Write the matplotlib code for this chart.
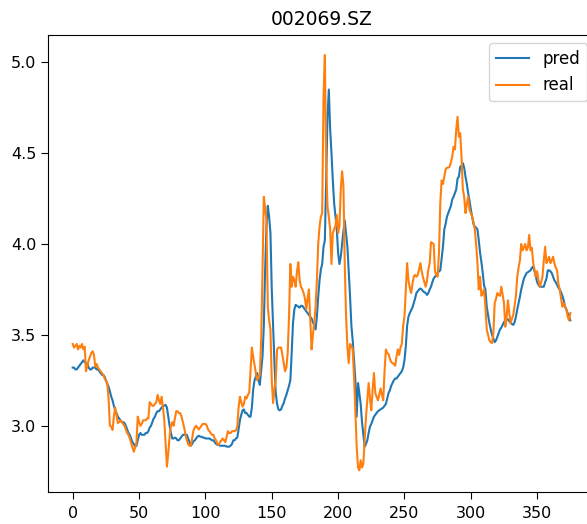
import matplotlib
matplotlib.use("Agg")
import matplotlib.pyplot as plt

# model output vs. actual close price, one value per trading day
pred = [
    3.32, 3.32, 3.31, 3.31, 3.32, 3.33, 3.34, 3.35, 3.36, 3.35,
    3.345, 3.34, 3.32, 3.31, 3.31, 3.32, 3.32, 3.32, 3.31, 3.31,
    3.30, 3.29, 3.28, 3.28, 3.27, 3.25, 3.23, 3.215, 3.19, 3.16,
    3.14, 3.11, 3.085, 3.07, 3.05, 3.04, 3.03, 3.02, 3.02, 3.015,
    3.00, 2.98, 2.96, 2.95, 2.93, 2.91, 2.90, 2.885, 2.89, 2.92,
    2.95, 2.96, 2.95, 2.95, 2.95, 2.96, 2.96, 2.97, 2.99, 3.00,
    3.02, 3.04, 3.05, 3.07, 3.08, 3.08, 3.09, 3.10, 3.11, 3.11,
    3.115, 3.10, 3.05, 3.00, 2.96, 2.93, 2.93, 2.935, 2.93, 2.92,
    2.92, 2.93, 2.94, 2.95, 2.95, 2.95, 2.95, 2.93, 2.91, 2.89,
    2.90, 2.915, 2.92, 2.93, 2.94, 2.945, 2.94, 2.94, 2.935, 2.935,
    2.93, 2.93, 2.93, 2.93, 2.925, 2.92, 2.92, 2.91, 2.90, 2.895,
    2.895, 2.89, 2.89, 2.89, 2.89, 2.89, 2.885, 2.885, 2.885, 2.89,
    2.90, 2.92, 2.92, 2.93, 2.935, 2.98, 3.03, 3.06, 3.085, 3.09,
    3.07, 3.07, 3.06, 3.05, 3.05, 3.10, 3.20, 3.25, 3.27, 3.29,
    3.25, 3.225, 3.30, 3.38, 3.55, 3.86, 4.10, 4.21, 4.15, 4.06,
    3.75, 3.55, 3.35, 3.18, 3.12, 3.09, 3.085, 3.09, 3.11, 3.125,
    3.15, 3.17, 3.195, 3.22, 3.25, 3.40, 3.565, 3.64, 3.665, 3.66,
    3.655, 3.65, 3.66, 3.66, 3.65, 3.64, 3.63, 3.62, 3.61, 3.60,
    3.59, 3.57, 3.55, 3.53, 3.60, 3.71, 3.80, 3.86, 3.89, 3.985,
    4.02, 4.35, 4.70, 4.85, 4.63, 4.50, 4.35, 4.225, 4.15, 4.08,
    3.95, 3.89, 3.93, 4.00, 4.07, 4.13, 4.06, 3.985, 3.85, 3.71,
    3.55, 3.47, 3.36, 3.25, 3.05, 3.235, 3.18, 3.12, 3.02, 2.95,
    2.885, 2.90, 2.92, 2.96, 2.995, 3.01, 3.03, 3.05, 3.06, 3.07,
    3.08, 3.085, 3.09, 3.095, 3.10, 3.11, 3.12, 3.15, 3.18, 3.195,
    3.22, 3.235, 3.25, 3.26, 3.26, 3.27, 3.28, 3.29, 3.30, 3.32,
    3.36, 3.435, 3.55, 3.60, 3.62, 3.635, 3.65, 3.675, 3.70, 3.73,
    3.74, 3.75, 3.755, 3.75, 3.74, 3.735, 3.73, 3.72, 3.73, 3.75,
    3.765, 3.79, 3.81, 3.82, 3.83, 3.84, 3.85, 3.855, 3.92, 3.985,
    4.08, 4.11, 4.15, 4.17, 4.19, 4.21, 4.245, 4.26, 4.28, 4.30,
    4.36, 4.37, 4.425, 4.43, 4.445, 4.42, 4.37, 4.33, 4.28, 4.24,
    4.19, 4.15, 4.11, 4.095, 4.09, 4.08, 4.02, 3.95, 3.90, 3.84,
    3.77, 3.75, 3.655, 3.61, 3.565, 3.53, 3.50, 3.48, 3.46, 3.47,
    3.49, 3.51, 3.53, 3.54, 3.555, 3.57, 3.58, 3.585, 3.585, 3.575,
    3.565, 3.56, 3.555, 3.57, 3.60, 3.64, 3.675, 3.71, 3.75, 3.78,
    3.81, 3.825, 3.84, 3.845, 3.85, 3.855, 3.87, 3.875, 3.85, 3.82,
    3.79, 3.775, 3.765, 3.765, 3.765, 3.765, 3.79, 3.81, 3.855, 3.855,
    3.85, 3.84, 3.82, 3.80, 3.79, 3.775, 3.76, 3.75, 3.735, 3.715,
    3.69, 3.655, 3.64, 3.62, 3.60, 3.58,
]

real = [
    3.45, 3.43, 3.44, 3.45, 3.42, 3.44, 3.43, 3.45, 3.42, 3.435,
    3.30, 3.33, 3.36, 3.38, 3.40, 3.41, 3.39, 3.325, 3.34, 3.32,
    3.31, 3.30, 3.29, 3.28, 3.26, 3.25, 3.235, 3.15, 3.00, 2.995,
    2.977, 3.05, 3.10, 3.06, 3.015, 3.02, 3.03, 3.02, 3.01, 3.00,
    2.98, 2.96, 2.95, 2.93, 2.905, 2.88, 2.857, 2.88, 2.905, 3.05,
    3.02, 3.00, 3.01, 3.03, 3.03, 3.03, 3.04, 3.04, 3.13, 3.12,
    3.11, 3.11, 3.12, 3.13, 3.17, 3.14, 3.12, 3.16, 3.10, 3.03,
    2.90, 2.775, 2.85, 2.94, 3.00, 3.02, 3.00, 3.04, 3.08, 3.08,
    3.07, 3.07, 3.05, 3.02, 2.99, 2.95, 2.92, 2.90, 2.89, 2.89,
    2.93, 2.975, 2.99, 3.00, 2.99, 2.98, 2.99, 3.00, 3.01, 3.01,
    3.01, 3.00, 2.98, 2.97, 2.96, 2.95, 2.95, 2.93, 2.92, 2.90,
    2.895, 2.91, 2.92, 2.93, 2.92, 2.91, 2.94, 2.97, 2.96, 2.96,
    2.97, 2.97, 2.97, 2.975, 2.995, 3.10, 3.16, 3.13, 3.105, 3.12,
    3.16, 3.15, 3.17, 3.18, 3.31, 3.43, 3.38, 3.335, 3.29, 3.25,
    3.27, 3.28, 3.47, 3.84, 4.26, 4.20, 4.13, 3.655, 3.58, 3.53,
    3.25, 3.125, 3.20, 3.25, 3.42, 3.43, 3.43, 3.43, 3.39, 3.345,
    3.30, 3.32, 3.40, 3.60, 3.89, 3.765, 3.82, 3.80, 3.765, 3.85,
    3.90, 3.80, 3.765, 3.75, 3.73, 3.70, 3.64, 3.70, 3.75, 3.58,
    3.42, 3.50, 3.565, 3.655, 3.80, 4.00, 4.095, 4.15, 4.17, 4.81,
    5.04, 4.445, 4.205, 4.15, 4.08, 3.89, 4.06, 4.08, 4.10, 4.16,
    4.06, 4.10, 4.30, 4.40, 4.32, 3.89, 3.60, 3.435, 3.345, 3.45,
    3.44, 3.42, 3.27, 3.085, 2.885, 2.77, 2.755, 2.81, 2.77, 2.79,
    2.92, 3.05, 3.14, 3.235, 3.15, 3.085, 3.20, 3.29, 3.18, 3.16,
    3.14, 3.17, 3.205, 3.17, 3.14, 3.30, 3.42, 3.40, 3.395, 3.37,
    3.35, 3.345, 3.34, 3.33, 3.38, 3.42, 3.39, 3.43, 3.45, 3.55,
    3.60, 3.75, 3.895, 3.80, 3.76, 3.73, 3.78, 3.82, 3.83, 3.82,
    3.83, 3.86, 3.895, 3.85, 3.815, 3.79, 3.765, 3.80, 3.86, 3.895,
    4.01, 4.005, 4.00, 3.85, 3.83, 3.82, 3.95, 4.225, 4.35, 4.33,
    4.37, 4.41, 4.42, 4.42, 4.425, 4.45, 4.48, 4.535, 4.52, 4.63,
    4.70, 4.59, 4.61, 4.48, 4.30, 4.26, 4.17, 4.22, 4.26, 4.19,
    4.17, 4.15, 4.12, 4.08, 4.00, 3.895, 3.75, 3.82, 3.715, 3.73,
    3.75, 3.655, 3.53, 3.50, 3.47, 3.46, 3.455, 3.51, 3.675, 3.70,
    3.73, 3.72, 3.715, 3.765, 3.72, 3.675, 3.545, 3.60, 3.69, 3.62,
    3.565, 3.59, 3.61, 3.66, 3.715, 3.82, 3.87, 3.91, 4.00, 3.965,
    3.98, 4.00, 3.965, 3.98, 4.05, 3.965, 3.98, 3.895, 3.86, 3.82,
    3.85, 3.80, 3.765, 3.79, 3.82, 3.91, 3.985, 3.895, 3.91, 3.93,
    3.895, 3.91, 3.93, 3.895, 3.87, 3.855, 3.78, 3.75, 3.70, 3.655,
    3.675, 3.655, 3.64, 3.60, 3.58, 3.62,
]

stock_code = "002069.SZ"

fig = plt.figure(figsize=(5.87, 5.24), dpi=100)
# the original screenshot cuts off the right spine, so the axes run past the canvas
ax = fig.add_axes([0.0823, 0.0616, 0.9317, 0.8716])

ax.plot(pred, label="pred")
ax.plot(real, label="real")

ax.set_xlim(-18.4, 393.75)
ax.set_ylim(2.637, 5.150)
ax.set_title(stock_code, fontsize=13.5, pad=7)
ax.tick_params(axis="both", labelsize=11.5, length=4.7)
ax.tick_params(axis="x", pad=5.5)
ax.tick_params(axis="y", pad=4)
ax.legend(loc="upper right", fontsize=12)

fig.savefig("out.png", dpi=100, facecolor="white")
plt.close(fig)
